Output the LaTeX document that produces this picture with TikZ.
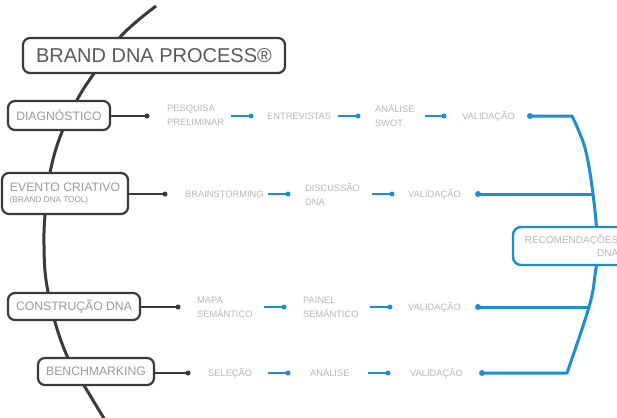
\documentclass[tikz,border=0pt]{standalone}
\usepackage{fontspec}
\setmainfont{Liberation Sans}
\definecolor{dk}{HTML}{3A3A3A}
\definecolor{bl}{HTML}{1B8FD2}
\definecolor{lg}{HTML}{B8B8B8}
\definecolor{mg}{HTML}{9A9A9A}
\definecolor{tg}{HTML}{5A5A5A}
\begin{document}
\begin{tikzpicture}[x=1pt,y=-1pt,
  spine/.style={draw=dk,line width=3pt},
  box/.style={draw=dk,line width=2.2pt,rounded corners=7pt,fill=white,inner sep=0pt,
    text=mg,font=\fontsize{12.2}{14}\selectfont},
  dline/.style={draw=dk,line width=2pt},
  ddot/.style={circle,fill=dk,inner sep=0pt,minimum size=5pt},
  bline/.style={draw=bl,line width=2.4pt},
  bthick/.style={draw=bl,line width=3pt,line join=round},
  bdot/.style={circle,fill=bl,inner sep=0pt,minimum size=5pt},
  lbl/.style={text=lg,inner sep=0pt,anchor=west,align=left,font=\fontsize{9.3}{14}\selectfont},
  rbox/.style={draw=bl,line width=2.4pt,rounded corners=8pt,fill=white,inner sep=0pt,
    text=lg,align=right,font=\fontsize{10}{13}\selectfont}]
\clip (0,0) rectangle (617,417);
\fill[white] (0,0) rectangle (617,417);

% spine
\draw[spine] plot[smooth,tension=0.6] coordinates {(156,6) (122,35) (95,72) (77,100) (60,137) (50,173) (45,215) (44,245) (46,280) (55,322) (68,358) (85,387) (108,425)};

% title
\node[box,minimum width=262pt,minimum height=35pt,text=tg,font=\fontsize{20}{24}\selectfont] (title) at (154,55.5) {BRAND DNA PROCESS®};

% phase boxes
\node[box,minimum width=102pt,minimum height=29pt] (diag) at (59,115.5) {DIAGNÓSTICO};
\node[box,minimum width=126pt,minimum height=41pt,align=left] (evento) at (65,193.5) {EVENTO CRIATIVO\\[-3pt]{\fontsize{8.2}{9}\selectfont (BRAND DNA TOOL)}};
\node[box,minimum width=132pt,minimum height=27pt] (constr) at (74,306.5) {CONSTRUÇÃO DNA};
\node[box,minimum width=116pt,minimum height=27pt] (bench) at (96,371.5) {BENCHMARKING};

% dark connectors
\node[ddot] (dd1) at (147,116) {};
\node[ddot] (dd2) at (165,194) {};
\node[ddot] (dd3) at (178,307) {};
\node[ddot] (dd4) at (188,373) {};
\draw[dline] (diag.east |- dd1) -- (dd1.center);
\draw[dline] (evento.east |- dd2) -- (dd2.center);
\draw[dline] (constr.east |- dd3) -- (dd3.center);
\draw[dline] (bench.east |- dd4) -- (dd4.center);

% row 1
\node[lbl] (t11) at (167,115.5) {PESQUISA\\PRELIMINAR};
\coordinate (s11) at (231,116); \node[bdot] (b11) at (251,116) {};
\draw[bline] (s11) -- (b11.center);
\node[lbl] (t12) at (267,116) {ENTREVISTAS};
\coordinate (s12) at (338,116); \node[bdot] (b12) at (358,116) {};
\draw[bline] (s12) -- (b12.center);
\node[lbl] (t13) at (375,116) {ANÁLISE\\SWOT};
\coordinate (s13) at (425,116); \node[bdot] (b13) at (444,116) {};
\draw[bline] (s13) -- (b13.center);
\node[lbl] (t14) at (462,116) {VALIDAÇÃO};

% row 2
\node[lbl] (t21) at (185,194) {BRAINSTORMING};
\coordinate (s21) at (268,194); \node[bdot] (b21) at (288,194) {};
\draw[bline] (s21) -- (b21.center);
\node[lbl] (t22) at (305,194.5) {DISCUSSÃO\\DNA};
\coordinate (s22) at (372,194); \node[bdot] (b22) at (392,194) {};
\draw[bline] (s22) -- (b22.center);
\node[lbl] (t23) at (408,194) {VALIDAÇÃO};

% row 3
\node[lbl] (t31) at (197,307.5) {MAPA\\SEMÂNTICO};
\coordinate (s31) at (264,307); \node[bdot] (b31) at (284,307) {};
\draw[bline] (s31) -- (b31.center);
\node[lbl] (t32) at (303,307.5) {PAINEL\\SEMÂNTICO};
\coordinate (s32) at (370,307); \node[bdot] (b32) at (390,307) {};
\draw[bline] (s32) -- (b32.center);
\node[lbl] (t33) at (408,307) {VALIDAÇÃO};

% row 4
\node[lbl] (t41) at (208,373) {SELEÇÃO};
\coordinate (s41) at (268,373); \node[bdot] (b41) at (288,373) {};
\draw[bline] (s41) -- (b41.center);
\node[lbl] (t42) at (310,373) {ANÁLISE};
\coordinate (s42) at (368,373); \node[bdot] (b42) at (388,373) {};
\draw[bline] (s42) -- (b42.center);
\node[lbl] (t43) at (410,373) {VALIDAÇÃO};

% validation dots and the blue collector
\node[bdot,minimum size=6pt] (v1) at (530,116) {};
\node[bdot,minimum size=6pt] (v2) at (478,194) {};
\node[bdot,minimum size=6pt] (v3) at (478,307) {};
\node[bdot,minimum size=6pt] (v4) at (482,373) {};
\coordinate (c2) at (593,194);
\coordinate (c3) at (589,307);
\draw[bthick] (v1.center) -- plot[smooth,tension=0.6] coordinates {(572,116) (585,148) (593,194) (597.5,245) (595,275) (589,307) (567,373)} -- (v4.center);
\draw[bthick] (v2.center) -- (c2);
\draw[bthick] (v3.center) -- (c3);

% recommendations
\node[rbox,minimum width=117pt,minimum height=38pt] (rec) at (571.5,246) {RECOMENDAÇÕES\\DNA};
\end{tikzpicture}
\end{document}
